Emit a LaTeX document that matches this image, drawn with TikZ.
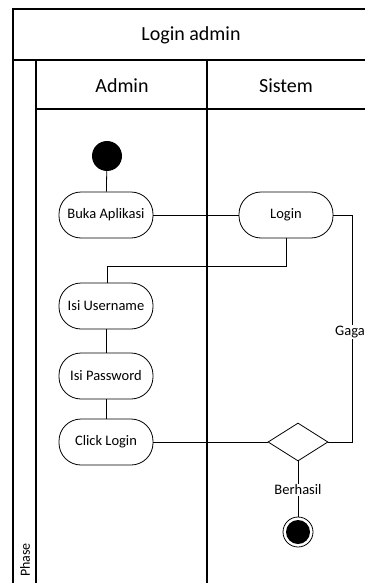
\documentclass[tikz,border=0pt]{standalone}
\usepackage{fontspec}
\setmainfont{Carlito}
\usetikzlibrary{shapes.geometric}
\begin{document}
\begin{tikzpicture}[x=1pt,y=-1pt,
  lane/.style={line width=1.3pt},
  act/.style={draw,line width=0.8pt,rectangle,rounded corners=22pt,minimum width=94pt,minimum height=46pt,inner sep=0pt,font=\fontsize{14.5}{16}\selectfont},
  conn/.style={line width=0.8pt},
  lbl/.style={fill=white,inner sep=1pt,font=\fontsize{14.5}{16}\selectfont},
  hdr/.style={font=\fontsize{20}{22}\selectfont}]
\useasboundingbox (0,0) rectangle (365,583);
% swimlane frame
\draw[lane] (365,9) -- (13,9) -- (13,583);
\draw[lane] (13,60) -- (365,60);
\draw[lane] (36,60) -- (36,583);
\draw[lane] (36,109) -- (365,109);
\draw[lane] (207,60) -- (207,583);
\node[hdr] (title) at (191,35) {Login admin};
\node[hdr] (hadmin) at (122,86) {Admin};
\node[hdr] (hsistem) at (286,86) {Sistem};
\node[rotate=90,font=\fontsize{14}{16}\selectfont] (phase) at (25,560) {Phase};
% nodes
\node[circle,fill=black,minimum size=30pt,inner sep=0pt] (start) at (107,156) {};
\node[act] (buka) at (106,215) {Buka Aplikasi};
\node[act] (login) at (286,215) {Login};
\node[act] (user) at (106,306) {Isi Username};
\node[act] (pass) at (106,376) {Isi Password};
\node[act] (click) at (106,442) {Click Login};
\node[diamond,draw,line width=0.8pt,minimum width=60pt,minimum height=38pt,inner sep=0pt,aspect=1.58] (dec) at (298,442) {};
\node[circle,draw,line width=0.8pt,minimum size=30pt,inner sep=0pt] (end) at (298,532) {};
\node[circle,fill=black,minimum size=24pt,inner sep=0pt] (endin) at (298,532) {};
\coordinate (j1) at (286,266);
\coordinate (j2) at (107,266);
\coordinate (r1) at (352,215);
\coordinate (r2) at (352,442);
% connectors
\draw[conn] (start) -- (buka);
\draw[conn] (buka) -- (login);
\draw[conn] (login.south) -- (j1) -- (j2) -- (user.north -| j2);
\draw[conn] (user) -- (pass);
\draw[conn] (pass) -- (click);
\draw[conn] (click) -- (dec);
\draw[conn] (login.east) -- (r1) -- (r2) -- (dec.east);
\draw[conn] (dec.south) -- (end.north);
\node[lbl,anchor=west,inner sep=1pt] (gagal) at (334,332) {Gaga};
\node[lbl] (berhasil) at (298,490) {Berhasil};
\end{tikzpicture}
\end{document}
